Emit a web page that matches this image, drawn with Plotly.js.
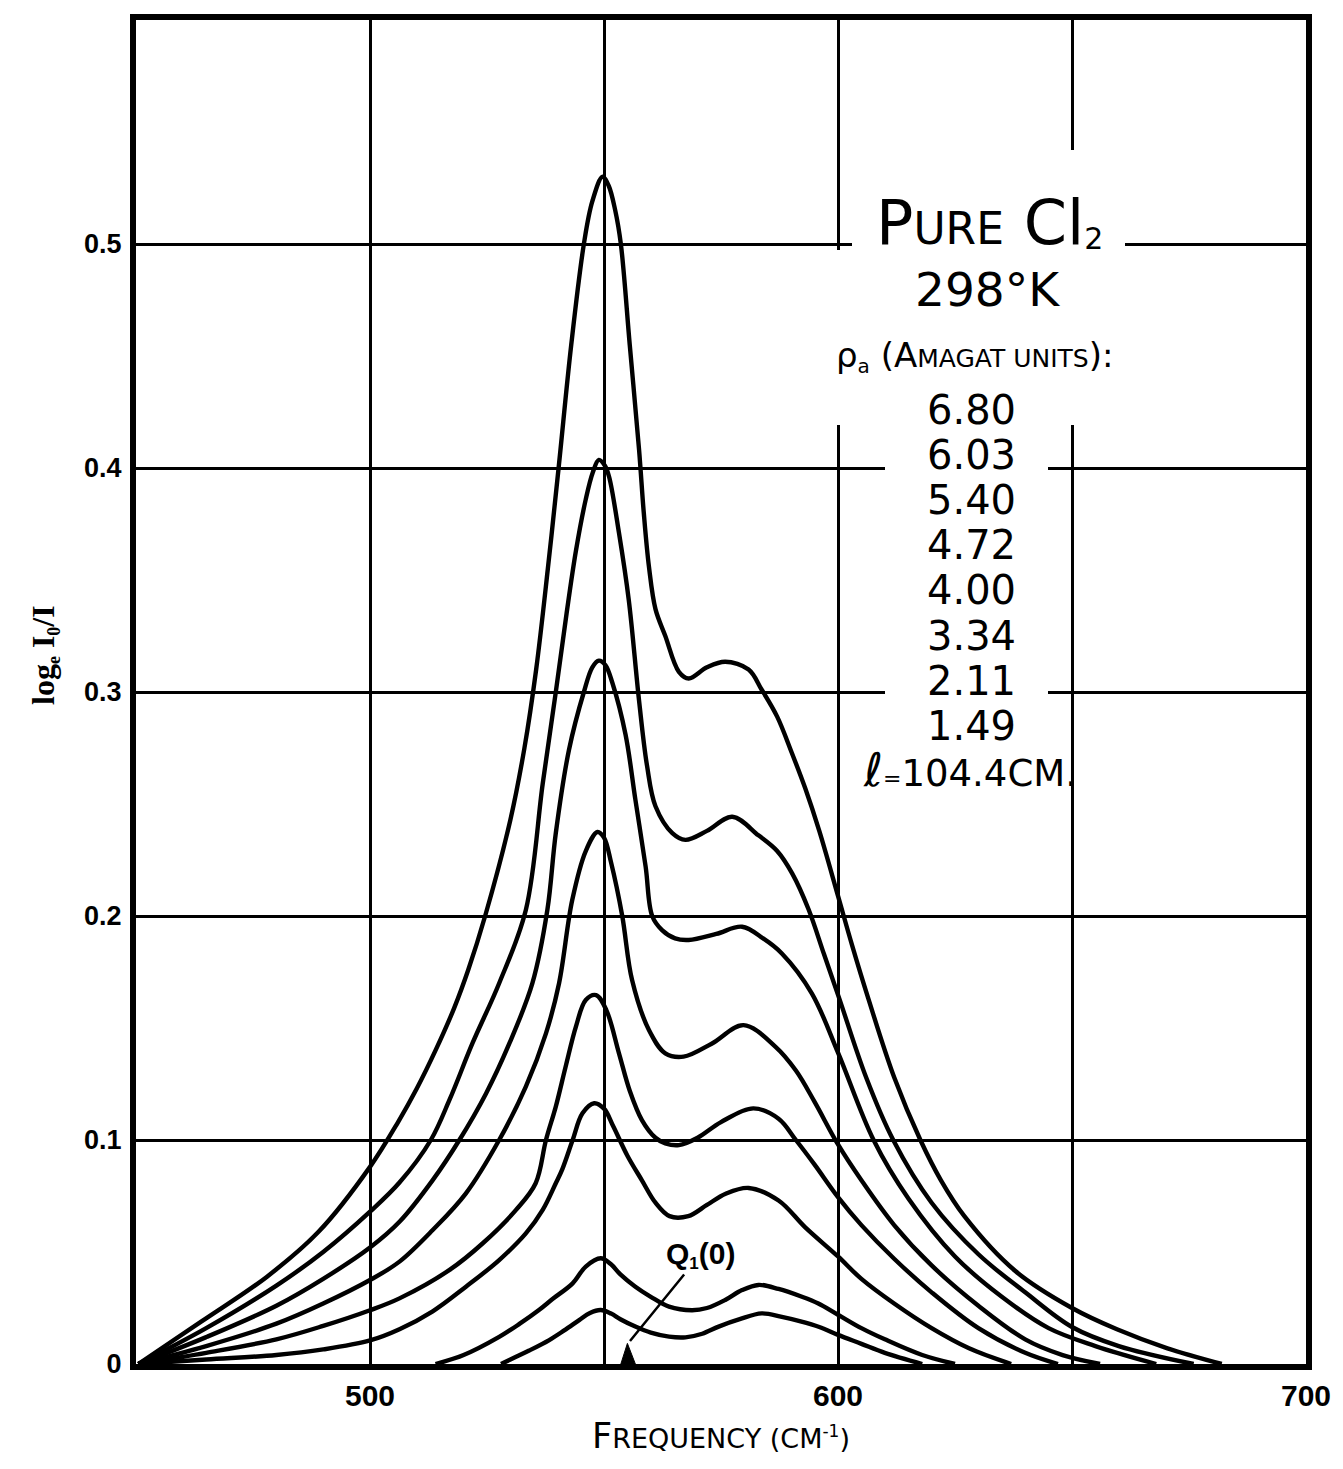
<!DOCTYPE html>
<html><head><meta charset="utf-8">
<script src="https://cdn.plot.ly/plotly-3.0.1.min.js"></script>
<style>html,body{margin:0;padding:0;background:#fff}</style>
</head><body><div id="chart" style="width:1343px;height:1469px"></div>
<script>
// densities (Amagat units) labelling the curves, top to bottom
const densities = ['6.80','6.03','5.40','4.72','4.00','3.34','2.11','1.49'];

// frequency (cm^-1) and log(I0/I)
const freq680 = [450.5,464,478,489,500,506,510,514,518,521,524.6,530,533,535.5,538,540.3,543,545.7,547.5,549.7,551,552.4,553.6,555.5,557.5,558.5,559.6,561,563.1,566,568.1,572,575.9,580.9,583.7,587,590.1,593,596,600,603,606.5,612,617.6,622,627,637.9,650,659.6,670.4,682];
const abs680  = [0,0.019,0.039,0.059,0.088,0.108,0.123,0.14,0.159,0.176,0.2,0.243,0.275,0.31,0.355,0.4,0.455,0.5,0.519,0.53,0.526,0.515,0.5,0.455,0.408,0.38,0.356,0.337,0.325,0.309,0.306,0.311,0.3135,0.31,0.301,0.289,0.273,0.257,0.238,0.209,0.187,0.163,0.128,0.1,0.082,0.066,0.0415,0.025,0.0155,0.007,0];

const freq603 = [450.5,465,480,490,500,506.3,513,517,521.9,527.6,533.3,536.9,539.7,542,544,546.1,547.6,548.9,550.2,551.1,553.2,555.3,557.5,559.2,561,564.6,567.4,572,577.4,583,587,590.2,593.7,597,600.3,606,611.8,620,630,640,650,660,676];
const abs603  = [0,0.016,0.035,0.05,0.068,0.081,0.1,0.118,0.1432,0.17,0.2027,0.259,0.3,0.335,0.363,0.386,0.398,0.4036,0.401,0.396,0.371,0.341,0.296,0.267,0.249,0.237,0.234,0.238,0.2443,0.236,0.229,0.219,0.203,0.183,0.163,0.128,0.1,0.072,0.049,0.032,0.0165,0.008,0];

const freq540 = [450.5,465,480,490,500,506.3,513.4,519.1,524.8,529.8,534.7,537.9,539.7,542.5,545.7,547.5,548.9,550.3,551.8,554.6,556.7,558.9,560.3,562.4,565.2,568.1,574,579.5,584,588,594.4,600,607.6,615,625,635,645,655,668];
const abs540  = [0,0.012,0.026,0.038,0.052,0.0635,0.0821,0.1,0.1208,0.1432,0.17,0.2027,0.237,0.274,0.3,0.311,0.314,0.312,0.304,0.281,0.252,0.222,0.2,0.1937,0.19,0.1893,0.192,0.1952,0.19,0.1833,0.1655,0.139,0.1,0.074,0.048,0.03,0.016,0.008,0];

const freq472 = [450.5,465,480,490,500,506.3,513.4,520.5,527.6,533.3,537.6,540.4,543.2,546.1,548.6,550,551.5,553.9,556,559.6,563.1,567,573,579.8,586.6,591,595,600,605,612,620,630,640,648,656];
const abs472  = [0,0.008,0.018,0.027,0.0375,0.0457,0.0598,0.0762,0.1,0.1238,0.1476,0.17,0.207,0.229,0.2375,0.235,0.224,0.2,0.1714,0.1491,0.1387,0.1372,0.143,0.1513,0.1417,0.131,0.117,0.098,0.082,0.062,0.044,0.026,0.011,0.004,0];

const freq400 = [450.5,465,480,490,500,506.3,517,524.1,531.2,535.4,537.6,539.7,541.8,544,546.1,548.3,550.5,553.2,555.5,558.1,561,563.1,566,570,575,581.9,587.3,591,595,600,605,612,620,630,640,647];
const abs400  = [0,0.005,0.011,0.017,0.024,0.0293,0.042,0.0539,0.0688,0.0807,0.1,0.1149,0.1327,0.1506,0.1625,0.1647,0.158,0.1387,0.122,0.1089,0.101,0.0985,0.0977,0.101,0.108,0.1141,0.1095,0.1,0.089,0.0745,0.062,0.047,0.032,0.016,0.005,0];

const freq334 = [450.5,465,480,490,500,506.3,513.4,520.5,527.6,533.3,536.9,539.7,541.1,543.3,545.4,547.9,550,552,555,558.1,561,564,568,572,576,580.9,587.3,593,600,605,612,620,628,637];
const abs334  = [0,0.002,0.004,0.0065,0.0105,0.0155,0.0235,0.0345,0.0464,0.0583,0.0688,0.0807,0.087,0.1,0.1119,0.1164,0.114,0.106,0.093,0.082,0.072,0.066,0.066,0.071,0.076,0.0786,0.073,0.061,0.048,0.038,0.027,0.016,0.007,0];

const freq211 = [514,520,527.6,532,536.1,539,543.3,546.1,549.3,551.5,553.5,556.7,560,563.9,568.8,572,575.9,579.5,583,587.3,592.3,595.8,600,605,610,618,625];
const abs211  = [0,0.004,0.0121,0.018,0.0241,0.029,0.036,0.0435,0.0472,0.0445,0.040,0.0345,0.030,0.0256,0.024,0.025,0.0286,0.033,0.0353,0.0335,0.030,0.027,0.022,0.016,0.011,0.004,0];

const freq149 = [528,530,534,538.3,541.5,544.7,547,549.3,551.5,553.5,556.7,560,563.9,567.4,571,574.5,579,583.7,588,592,596,600,605,610,618];
const abs149  = [0,0.002,0.006,0.0107,0.015,0.0196,0.0228,0.0241,0.0225,0.020,0.0167,0.014,0.0122,0.0119,0.0135,0.0167,0.020,0.0226,0.021,0.019,0.0165,0.013,0.009,0.005,0];

// Q1(0) marker (small filled triangle on the axis)
const q1Freq = [553.6, 555.0, 556.7];
const q1Abs  = [0, 0.0092, 0];

// axis ticks
const xTickVals = [450,500,550,600,650,700];
const xTickText = ['','500','','600','','700'];
const yTickVals = [0,0.1,0.2,0.3,0.4,0.5,0.6];
const yTickText = ['0','0.1','0.2','0.3','0.4','0.5',''];

const series = [
  [freq680, abs680], [freq603, abs603], [freq540, abs540], [freq472, abs472],
  [freq400, abs400], [freq334, abs334], [freq211, abs211], [freq149, abs149]
];

const traces = series.map((s, i) => ({
  x: s[0], y: s[1], type: 'scatter', mode: 'lines',
  name: densities[i],
  line: {color: 'black', width: 4.4, shape: 'spline', smoothing: 1.0},
  hoverinfo: 'skip', cliponaxis: true
}));
traces.push({
  x: q1Freq, y: q1Abs, type: 'scatter', mode: 'lines', fill: 'toself',
  fillcolor: 'black', line: {color: 'black', width: 1}, name: 'Q1(0)', hoverinfo: 'skip'
});

// pixel helpers for placing decorations (plot area 136..1306 x 20..1364)
const L = 136, R = 1306, T = 20, B = 1364;
const px2x = p => 450 + (p - L) * 250 / (R - L);
const py2y = p => (B - p) * 0.6 / (B - T);
const pxp = p => (p - L) / (R - L);
const pyp = p => (B - p) / (B - T);

const TXT = 'DejaVu Sans';
const mask = (x0, x1, y0, y1) => ({
  type: 'rect', xref: 'x', yref: 'y', x0: px2x(x0), x1: px2x(x1), y0: py2y(y1), y1: py2y(y0),
  fillcolor: 'white', line: {width: 0}, layer: 'above'
});
// small lowered / raised text with an explicit size
const low = (t, size, shift) => '<span style="font-size:' + size + 'px;baseline-shift:-' + shift + 'px">' + t + '</span>';
const high = (t, size, shift) => '<span style="font-size:' + size + 'px;baseline-shift:' + shift + 'px">' + t + '</span>';

const ann = [];
function txt(cx, cy, text, size) {
  return {
    xref: 'paper', yref: 'paper', x: pxp(cx), y: pyp(cy),
    text: text, showarrow: false,
    font: {family: TXT, size: size, color: '#000000'},
    xanchor: 'center', yanchor: 'middle', align: 'center'
  };
}

ann.push(txt(989, 222, 'P<span style="font-size:44px">URE</span> Cl' + low('2', 30, 5), 62));
ann.push(txt(987, 289, '298°K', 47));
ann.push(txt(974, 356, 'ρ' + low('a', 20, 6) + ' (A<span style="font-size:25px">MAGAT UNITS</span>):', 34));
densities.forEach((d, i) => ann.push(txt(971, 410 + 45.1 * i, d, 40)));
ann.push(txt(970, 770, '<span style="font-size:46px">ℓ</span><span style="font-size:22px">=</span>104.4CM.', 37));

// Q1(0) label with leader line
ann.push({
  x: px2x(630), y: py2y(1341), xref: 'x', yref: 'y',
  text: '<b>Q' + low('1', 17, 5) + '(0)</b>', showarrow: true, arrowhead: 0, arrowwidth: 2.5, arrowcolor: 'black',
  ax: 70, ay: -86, standoff: 0,
  font: {family: 'Liberation Sans', size: 30, color: '#000000'}
});

// y-axis title (rotated)
ann.push({
  xref: 'paper', yref: 'paper', x: pxp(44), y: pyp(655),
  text: '<b>log' + low('e', 18, 6) + ' I' + low('0', 18, 6) + '/I</b>', textangle: -90, showarrow: false,
  font: {family: 'Liberation Serif', size: 32, color: '#000000'},
  xanchor: 'center', yanchor: 'middle'
});

const layout = {
  width: 1343, height: 1469,
  margin: {l: L, r: 1343 - R, t: T, b: 1469 - B},
  paper_bgcolor: 'white', plot_bgcolor: 'white',
  showlegend: false,
  xaxis: {
    range: [450, 700], tickvals: xTickVals, ticktext: xTickText,
    showgrid: true, gridcolor: 'black', gridwidth: 3, zeroline: false,
    showline: true, linecolor: 'black', linewidth: 6, mirror: true,
    ticks: '', ticklabelstandoff: 0,
    tickfont: {family: 'Liberation Sans', size: 30, color: 'black', weight: 'bold'},
    title: {
      text: 'F<span style="font-size:27px">REQUENCY (CM</span>' + high('-1', 17, 11) + '<span style="font-size:27px">)</span>',
      font: {family: TXT, size: 35, color: 'black'}, standoff: 14
    }
  },
  yaxis: {
    range: [0, 0.6], tickvals: yTickVals, ticktext: yTickText,
    showgrid: true, gridcolor: 'black', gridwidth: 3, zeroline: false,
    showline: true, linecolor: 'black', linewidth: 6, mirror: true,
    ticks: '', ticklabelstandoff: 3,
    tickfont: {family: 'Liberation Sans', size: 27, color: 'black', weight: 'bold'}
  },
  shapes: [
    mask(852, 1125, 150, 262),
    mask(832, 1135, 250, 425),
    mask(885, 1048, 425, 745)
  ],
  annotations: ann
};

Plotly.newPlot('chart', traces, layout, {staticPlot: true, displayModeBar: false});
</script></body></html>
